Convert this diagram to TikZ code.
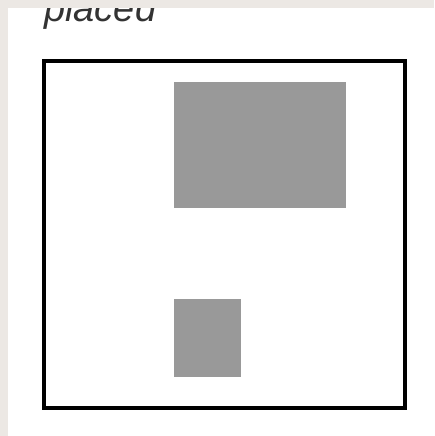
\documentclass[tikz,border=0pt]{standalone}
\usepackage{fontspec}
\setmainfont{Liberation Sans}
\definecolor{paper}{HTML}{ECE8E4}
\definecolor{blockgray}{HTML}{999999}

\begin{document}
\begin{tikzpicture}[x=1pt,y=-1pt]
\useasboundingbox (0,0) rectangle (434,436);
\fill[paper] (0,0) rectangle (434,436);
\fill[white] (8,8) rectangle (434,436);
\node[anchor=base west,inner sep=0pt,text=black!80] (title) at (44,22) {\fontsize{38}{40}\selectfont\itshape placed};
\fill[paper] (0,0) rectangle (434,8);
\fill[blockgray] (174,82) rectangle (346,208);
\fill[blockgray] (174,299) rectangle (241,377);
\draw[line width=4pt] (44,61) rectangle (405,408);
\end{tikzpicture}
\end{document}
